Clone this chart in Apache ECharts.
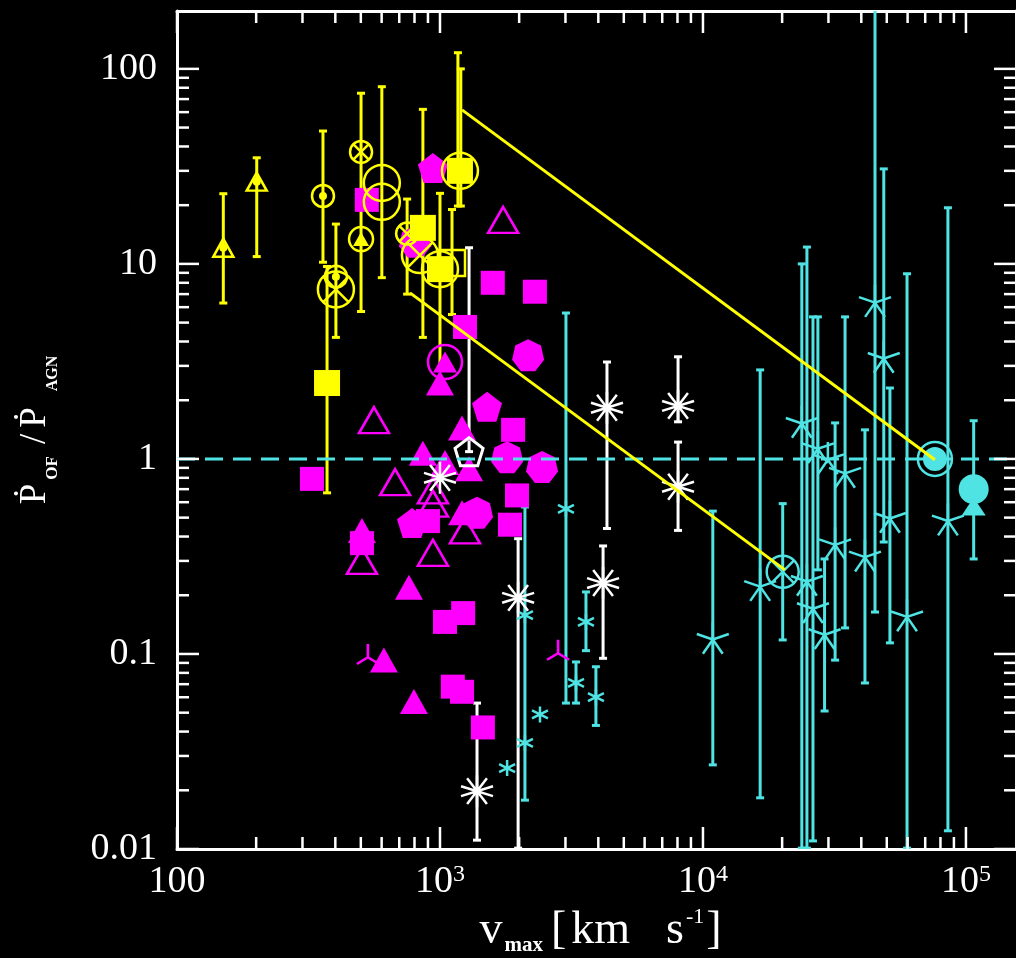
<!DOCTYPE html>
<html><head><meta charset="utf-8">
<script src="https://cdn.jsdelivr.net/npm/echarts@6/dist/echarts.min.js"></script>
<style>html,body{margin:0;padding:0;background:#000}#c{width:1016px;height:958px}</style>
</head><body><div id="c"></div>
<script>
// ---------- axis ranges & ticks ----------
const X_MIN = 100, X_MAX = 1.55e5, Y_MIN = 0.01, Y_MAX = 198;
const xMajorTicks = [100, 1000, 10000, 100000];
const xMinorTicks = [200,300,400,500,600,700,800,900,2000,3000,4000,5000,6000,7000,8000,9000,20000,30000,40000,50000,60000,70000,80000,90000];
const yMajorTicks = [0.01, 0.1, 1, 10, 100];
const yMinorTicks = [0.02,0.03,0.04,0.05,0.06,0.07,0.08,0.09,0.2,0.3,0.4,0.5,0.6,0.7,0.8,0.9,2,3,4,5,6,7,8,9,20,30,40,50,60,70,80,90];
const yTickLabels = {'-2':'0.01','-1':'0.1','0':'1','1':'10','2':'100'};

// ---------- yellow group ----------
const yelSmallTri = [[150, 12.1], [201, 26.4]];
const yelCircDot = [[359, 22.3], [402, 8.6]];
const yelDots = [[150, 12.1], [201, 26.4], [359, 22.3], [402, 8.6]];
const yelCircX = [[501, 37.5], [750, 14.3]];
const yelCircTri = [[501, 13.4]];
const yelBigCirc = [[601, 26], [601, 20.8], [1000, 9.4], [1191, 30]];
const yelBigCircX = [[402, 7.4], [839, 11.1]];
const yelSquares = [[372, 2.45], [861, 15.3], [1000, 9.4], [1191, 30]];
const yelOpenSquares = [[1111, 10.1]];
const yelErrors = [[150, 6.3, 22.9], [201, 10.9, 35], [359, 10.2, 48], [372, 0.67, 9.7], [402, 4.2, 16],
  [501, 5.7, 75], [601, 8.5, 81], [750, 7, 21.5], [861, 4.2, 62], [1000, 2.86, 23], [1111, 5.5, 19],
  [1170, 19.8, 121], [1200, 19.8, 100]];
const yelLine1 = [[1213, 61.6], [76200, 0.99]];
const yelLine2 = [[769, 7.1], [20500, 0.27]];

// ---------- white group ----------
const whtPent = [[1290, 1.09]];
const whtStars = [[1000, 0.80], [1383, 0.0198], [1982, 0.194], [4170, 0.231], [4315, 1.83], [8040, 1.87], [8040, 0.72]];
const whtErrors = [[1290, 1.09, 12.1], [1383, 0.0111, 0.056], [1982, 0.0101, 0.39], [4170, 0.095, 0.358],
  [4315, 0.44, 3.14], [8040, 1.55, 3.34], [8040, 0.43, 1.22]];

// ---------- magenta group ----------
const magSquares = [[326, 0.79], [527, 21.3], [1245, 4.75], [1588, 8.0], [2296, 7.2], [1897, 1.41], [1963, 0.65],
  [1846, 0.46], [900, 0.48], [505, 0.37], [1045, 0.146], [1225, 0.162], [1119, 0.068], [1213, 0.064], [1456, 0.042]];
const magTriangles = [[1000, 2.45], [1213, 1.44], [861, 1.07], [1045, 0.96], [1290, 0.89], [1213, 0.53],
  [505, 0.43], [762, 0.22], [612, 0.093], [796, 0.057]];
const magOpenTri = [[1738, 16.8], [561, 1.58], [675, 0.76], [940, 0.69], [940, 0.59], [940, 0.33], [505, 0.30], [1245, 0.43]];
const magPent = [[940, 31], [783, 0.47], [1510, 1.85]];
const magHept = [[2163, 3.4], [1800, 1.02], [2444, 0.91], [1383, 0.53], [804, 13]];
const magOpenCirc = [[1045, 3.14]];
const magTriStar = [[532, 0.1], [2812, 0.105]];

// ---------- cyan group ----------
const cyaStars = [[23760, 1.55], [27350, 1.15], [29850, 1.01], [34700, 0.86], [51400, 0.505], [85400, 0.49],
  [16500, 0.226], [24850, 0.24], [31800, 0.37], [41300, 0.32], [26200, 0.174], [29000, 0.128], [59700, 0.158],
  [10900, 0.121], [45100, 6.46], [48700, 3.34]];
const cyaSmallStars = [[3013, 0.555], [2104, 0.158], [2104, 0.035], [1800, 0.026], [2400, 0.049], [3590, 0.146], [3290, 0.071], [3917, 0.060]];
const cyaCircX = [[20100, 0.264]];
const cyaBigCirc = [[76200, 1.0]];
const cyaFilledCirc = [[107000, 0.70]];
const cyaFilledTri = [[107000, 0.57]];
const cyaErrors = [[10900, 0.027, 0.54], [16500, 0.0183, 2.86], [20100, 0.118, 0.59], [23760, 0.0101, 10.0],
  [24850, 0.0101, 12.2], [26200, 0.011, 5.35], [27350, 0.27, 5.35], [29000, 0.051, 0.307], [31800, 0.093, 1.53],
  [34700, 0.136, 5.35], [41300, 0.071, 1.41], [45100, 0.164, 250], [48700, 0.375, 30.7], [51400, 0.114, 2.31],
  [59700, 0.0101, 8.9], [85400, 0.0124, 19.4], [107000, 0.307, 1.57], [3013, 0.056, 5.6], [2104, 0.0178, 0.567],
  [3590, 0.104, 0.208], [3290, 0.056, 0.091], [3917, 0.043, 0.086]];
const unityLine = [[X_MIN, 1], [X_MAX, 1]];

// ---------- styles ----------
const YEL = '#ffff00', MAG = '#ff00ff', CYA = '#4fe3e3', WHT = '#ffffff';
const FONT = '"Liberation Serif", "DejaVu Serif", serif';
const SYM = {
  star5: 'path://M0,0L0,-10M0,0L9.51,-3.09M0,0L5.88,8.09M0,0L-5.88,8.09M0,0L-9.51,-3.09',
  star6: 'path://M0,-10L0,10M-8.66,-5L8.66,5M-8.66,5L8.66,-5',
  star10: 'path://M0,-10L0,10M-9.51,-3.09L9.51,3.09M-9.51,3.09L9.51,-3.09M-5.88,-8.09L5.88,8.09M-5.88,8.09L5.88,-8.09',
  tri3: 'path://M0,0L0,-10M0,0L-8.66,5M0,0L8.66,5',
  pent: 'path://M0,-10L9.51,-3.09L5.88,8.09L-5.88,8.09L-9.51,-3.09Z',
  hept: 'path://M0,-10L7.82,-6.23L9.75,2.23L4.34,9.01L-4.34,9.01L-9.75,2.23L-7.82,-6.23Z',
  circX: 'path://M10,0A10,10,0,1,1,-10,0A10,10,0,1,1,10,0ZM-7.07,-7.07L7.07,7.07M-7.07,7.07L7.07,-7.07'
};

function sc(data, symbol, size, fill, stroke, lw) {
  return {
    type: 'scatter', data: data, symbol: symbol, symbolSize: size, silent: true,
    emphasis: {disabled: true},
    itemStyle: {color: fill || 'rgba(0,0,0,0)', borderColor: stroke || fill, borderWidth: stroke ? lw : 0, opacity: 1}
  };
}
function errSeries(data, color) {
  return {
    type: 'custom', data: data, silent: true, clip: true,
    renderItem: function (params, api) {
      const x = api.value(0);
      const a = api.coord([x, api.value(1)]), b = api.coord([x, api.value(2)]);
      const st = {stroke: color, lineWidth: 3};
      return {type: 'group', children: [
        {type: 'line', shape: {x1: a[0], y1: a[1], x2: b[0], y2: b[1]}, style: st},
        {type: 'line', shape: {x1: a[0] - 4, y1: a[1], x2: a[0] + 4, y2: a[1]}, style: st},
        {type: 'line', shape: {x1: b[0] - 4, y1: b[1], x2: b[0] + 4, y2: b[1]}, style: st}
      ]};
    }
  };
}
// tick data: [x, y, length, direction]
const tickData = [];
xMajorTicks.forEach(v => { tickData.push([v, Y_MIN, 22, 0], [v, Y_MAX, 22, 1]); });
xMinorTicks.forEach(v => { tickData.push([v, Y_MIN, 12, 0], [v, Y_MAX, 12, 1]); });
yMajorTicks.forEach(v => { tickData.push([X_MIN, v, 22, 2], [X_MAX, v, 22, 3]); });
yMinorTicks.forEach(v => { tickData.push([X_MIN, v, 12, 2], [X_MAX, v, 12, 3]); });

function xLabel(v) {
  const l = Math.log10(v), e = Math.round(l);
  if (Math.abs(l - e) > 1e-6) return '';
  if (e === 2) return '100';
  return '10{s|' + e + '}';
}
function yLabel(v) {
  const l = Math.log10(v), e = Math.round(l);
  if (Math.abs(l - e) > 1e-6) return '';
  return yTickLabels[String(e)] || '';
}

const chart = echarts.init(document.getElementById('c'), null, {renderer: 'canvas'});
const axisCommon = {
  type: 'log', logBase: 10, splitLine: {show: false}, axisTick: {show: false},
  axisLine: {show: true, lineStyle: {color: '#fff', width: 3}}
};
chart.setOption({
  backgroundColor: '#000',
  animation: false,
  grid: {left: 177, right: 0, top: 11, bottom: 109, containLabel: false, outerBoundsMode: 'none'},
  xAxis: [
    Object.assign({}, axisCommon, {
      min: X_MIN, max: X_MAX, position: 'bottom',
      axisLabel: {formatter: xLabel, color: '#fff', fontFamily: FONT, fontSize: 38, margin: 14,
        showMinLabel: true, showMaxLabel: false,
        rich: {s: {fontSize: 24, fontFamily: FONT, color: '#fff', verticalAlign: 'top', lineHeight: 24}}},
      name: '{v0|v}{sb|max}{b|[}{km|km}{v|s}{sp|-1}{v|]}',
      nameLocation: 'middle', nameGap: 56,
      nameTextStyle: {color: '#fff', rich: {
        v0: {fontSize: 46, fontFamily: FONT, color: '#fff', lineHeight: 50, padding: [0, 0, 0, 8]},
        v: {fontSize: 46, fontFamily: FONT, color: '#fff', lineHeight: 50},
        b: {fontSize: 46, fontFamily: FONT, color: '#fff', lineHeight: 50, padding: [0, 5, 0, 8]},
        km: {fontSize: 46, fontFamily: FONT, color: '#fff', lineHeight: 50, padding: [0, 36, 0, 0]},
        sb: {fontSize: 21, fontFamily: FONT, color: '#fff', fontWeight: 'bold', verticalAlign: 'bottom', lineHeight: 20, padding: [0, 0, 0, 2]},
        sp: {fontSize: 22, fontFamily: FONT, color: '#fff', verticalAlign: 'top', lineHeight: 28, padding: [0, 2, 0, 2]}
      }}
    }),
    Object.assign({}, axisCommon, {min: X_MIN, max: X_MAX, position: 'top', axisLabel: {show: false}})
  ],
  yAxis: [
    Object.assign({}, axisCommon, {
      min: Y_MIN, max: Y_MAX, position: 'left',
      axisLabel: {formatter: yLabel, color: '#fff', fontFamily: FONT, fontSize: 38, margin: 20,
        showMinLabel: true, showMaxLabel: false},
      name: '{p|Ṗ}{so|OF}{p|/}{p2|Ṗ}{sa|AGN}',
      nameLocation: 'middle', nameRotate: 90, nameGap: 116,
      nameTextStyle: {color: '#fff', rich: {
        p: {fontSize: 37, fontFamily: FONT, color: '#fff', lineHeight: 52},
        p2: {fontSize: 37, fontFamily: FONT, color: '#fff', lineHeight: 52, padding: [0, 0, 0, 6]},
        so: {fontSize: 17, fontFamily: FONT, color: '#fff', fontWeight: 'bold', verticalAlign: 'bottom', lineHeight: 12, padding: [0, 12, 0, 4]},
        sa: {fontSize: 16, fontFamily: FONT, color: '#fff', fontWeight: 'bold', verticalAlign: 'bottom', lineHeight: 42, padding: [0, 0, 0, 16]}
      }}
    }),
    Object.assign({}, axisCommon, {min: Y_MIN, max: Y_MAX, position: 'right', axisLabel: {show: false}})
  ],
  series: [
    {type: 'custom', data: tickData, silent: true, clip: false, z: 5,
      renderItem: function (params, api) {
        const p = api.coord([api.value(0), api.value(1)]);
        const len = api.value(2), d = api.value(3);
        let x2 = p[0], y2 = p[1];
        if (d === 0) y2 -= len; else if (d === 1) y2 += len; else if (d === 2) x2 += len; else x2 -= len;
        return {type: 'line', shape: {x1: p[0], y1: p[1], x2: x2, y2: y2}, style: {stroke: '#fff', lineWidth: 2.5}};
      }},
    {type: 'line', data: unityLine, symbol: 'none', silent: true,
      lineStyle: {color: CYA, width: 3, type: [18, 10]}},
    errSeries(cyaErrors, CYA),
    errSeries(whtErrors, WHT),
    // magenta
    sc(magSquares, 'rect', 24, MAG),
    sc(magTriangles, 'triangle', [28, 25], MAG),
    sc(magOpenTri, 'triangle', [30, 26], null, MAG, 2.5),
    sc(magPent, SYM.pent, 30, MAG),
    sc(magHept, SYM.hept, 32, MAG),
    sc(magOpenCirc, 'circle', 34, null, MAG, 2.5),
    sc(magOpenCirc, 'triangle', [24, 21], MAG),
    sc(magTriStar, SYM.tri3, [22, 20], null, MAG, 2.5),
    errSeries(yelErrors, YEL),
    // cyan
    sc(cyaStars, SYM.star5, 32, null, CYA, 2.5),
    sc(cyaSmallStars, SYM.star6, 16, null, CYA, 2.5),
    sc(cyaCircX, SYM.circX, 32, null, CYA, 2.5),
    sc(cyaBigCirc, 'circle', 24, CYA),
    sc(cyaBigCirc, 'circle', 34, null, CYA, 2.5),
    sc(cyaFilledCirc, 'circle', 30, CYA),
    sc(cyaFilledTri, 'triangle', [24, 18], CYA),
    // white
    sc(whtStars, SYM.star10, 32, null, WHT, 2.5),
    sc(whtPent, SYM.pent, 28, null, WHT, 3),
    // yellow lines
    {type: 'line', data: yelLine1, symbol: 'none', silent: true, lineStyle: {color: YEL, width: 3}},
    {type: 'line', data: yelLine2, symbol: 'none', silent: true, lineStyle: {color: YEL, width: 3}},
    // yellow markers
    sc(yelSquares, 'rect', 26, YEL),
    sc(yelOpenSquares, 'rect', 26, null, YEL, 2.5),
    sc(yelSmallTri, 'triangle', [20, 18], null, YEL, 2.5),
    sc(yelCircDot, 'circle', 22, null, YEL, 2.5),
    sc(yelDots, 'circle', 8, YEL),
    sc(yelCircX, SYM.circX, 22, null, YEL, 2.5),
    sc(yelCircTri, 'circle', 24, null, YEL, 2.5),
    sc(yelCircTri, 'triangle', [16, 14], YEL),
    sc(yelBigCirc, 'circle', 36, null, YEL, 2.5),
    sc(yelBigCircX, SYM.circX, 36, null, YEL, 2.5)
  ]
});
</script>
</body></html>
